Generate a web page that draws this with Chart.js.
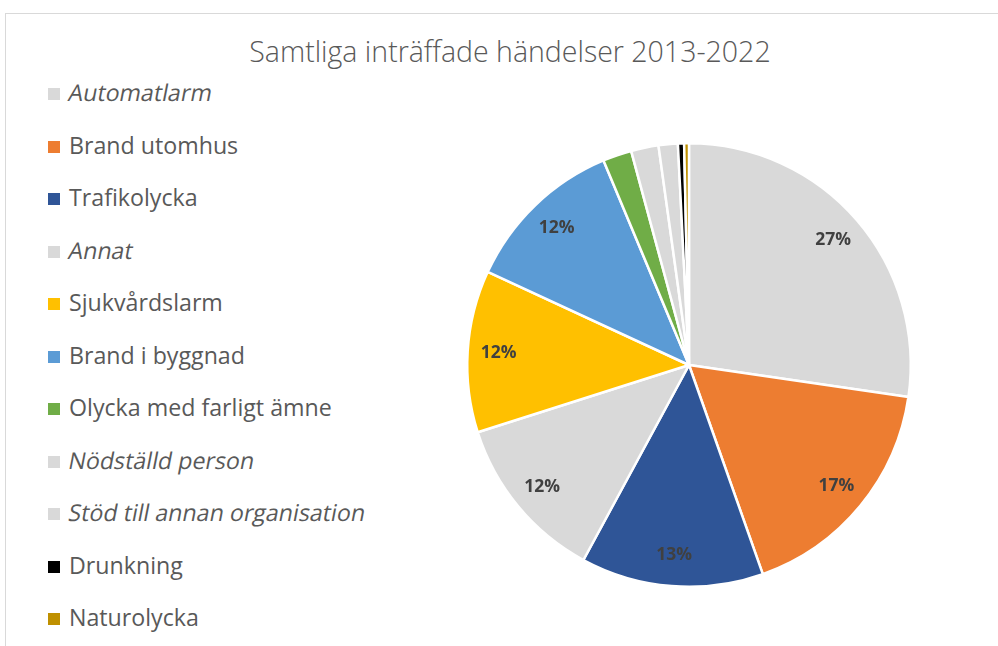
<!DOCTYPE html>
<html>
<head>
<meta charset="utf-8">
<script src="https://cdn.jsdelivr.net/npm/chart.js@4.4.1/dist/chart.umd.min.js"></script>
<style>
  html, body { margin: 0; padding: 0; background: #fff; }
  #wrap { position: relative; width: 998px; height: 646px; overflow: hidden; }
  #frame { position: absolute; left: 5px; top: 13px; width: 1100px; height: 700px; border: 1px solid #d9d9d9; }
  #title { position: absolute; left: 5px; width: 1010px; top: 32px; text-align: center;
    font-family: "Open Sans", sans-serif; font-weight: 300; font-size: 28.5px; color: #595959; }
  #legend { position: absolute; left: 48px; top: 0; font-family: "Open Sans", sans-serif; font-size: 23.2px; color: #595959; }
  .item { position: absolute; white-space: nowrap; }
  .box { display: inline-block; width: 12px; height: 12px; margin-right: 9px; vertical-align: 1px; }
  .slant { display: inline-block; transform: skewX(-11deg); }
  canvas { position: absolute; left: 0; top: 0; }
</style>
</head>
<body>
<div id="wrap">
  <div id="frame"></div>
  <div id="title">Samtliga inträffade händelser 2013-2022</div>
  <div id="legend"></div>
  <canvas id="pie" width="998" height="646"></canvas>
</div>
<script>
var categories = ['Automatlarm', 'Brand utomhus', 'Trafikolycka', 'Annat', 'Sjukvårdslarm',
  'Brand i byggnad', 'Olycka med farligt ämne', 'Nödställd person', 'Stöd till annan organisation',
  'Drunkning', 'Naturolycka'];
var shares = [27.3, 17.3, 13.3, 12.2, 11.8, 11.8, 2.1, 2.0, 1.4, 0.45, 0.35];
var italicCats = ['Automatlarm', 'Annat', 'Nödställd person', 'Stöd till annan organisation'];
var colors = ['#d9d9d9', '#ed7d31', '#2f5597', '#d9d9d9', '#ffc000', '#5b9bd5',
  '#70ad47', '#d9d9d9', '#d9d9d9', '#000000', '#bf9000'];

// legend as html, one row per category
var legend = document.getElementById('legend');
categories.forEach(function(name, i) {
  var div = document.createElement('div');
  div.className = 'item';
  div.style.top = (76 + i * 52.5) + 'px';
  div.innerHTML = '<span class="box" style="background:' + colors[i] + '"></span>' +
    '<span class="' + (italicCats.indexOf(name) >= 0 ? 'slant' : '') + '">' + name + '</span>';
  legend.appendChild(div);
});

var pctLabels = {
  id: 'pctLabels',
  afterDatasetsDraw: function(chart) {
    var ctx = chart.ctx;
    var meta = chart.getDatasetMeta(0);
    var total = shares.reduce(function(a, b) { return a + b; }, 0);
    ctx.save();
    ctx.font = 'bold 17.5px "Open Sans", sans-serif';
    ctx.fillStyle = '#404040';
    ctx.textAlign = 'center';
    ctx.textBaseline = 'middle';
    meta.data.forEach(function(arc, i) {
      var pct = shares[i] / total * 100;
      if (pct < 5) return;
      var p = arc.getProps(['x', 'y', 'startAngle', 'endAngle', 'outerRadius'], true);
      var mid = (p.startAngle + p.endAngle) / 2;
      var r = p.outerRadius * 0.86;
      ctx.fillText(Math.round(pct) + '%', p.x + Math.cos(mid) * r, p.y + Math.sin(mid) * r);
    });
    ctx.restore();
  }
};

new Chart(document.getElementById('pie'), {
  type: 'pie',
  data: {
    labels: categories,
    datasets: [{
      data: shares,
      backgroundColor: colors,
      borderColor: '#ffffff',
      borderWidth: 2.5
    }]
  },
  options: {
    responsive: false,
    animation: false,
    layout: { padding: { left: 466, right: 86, top: 142, bottom: 58 } },
    plugins: {
      legend: { display: false },
      title: { display: false },
      tooltip: { enabled: false }
    }
  },
  plugins: [pctLabels]
});
</script>
</body>
</html>
